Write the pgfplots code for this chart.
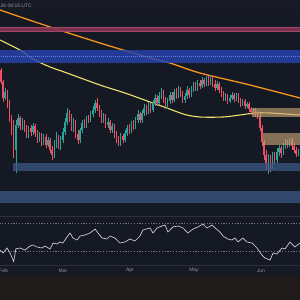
\documentclass[border=0pt]{standalone}
\usepackage{fontspec}
\setmainfont{Liberation Sans}
\usepackage{pgfplots}
\usepackage{pgfplotstable}
\pgfplotsset{compat=1.18}

\definecolor{bg}{HTML}{151924}
\definecolor{hdr}{HTML}{181B25}
\definecolor{foot}{HTML}{1E1B1A}
\definecolor{sep}{HTML}{2C303B}
\definecolor{lbl}{HTML}{9598A1}
\definecolor{upc}{HTML}{26A69A}
\definecolor{dnc}{HTML}{EF5063}
\definecolor{ma200}{HTML}{F5951F}
\definecolor{ma100}{HTML}{EDE46A}
\definecolor{resz}{HTML}{843350}
\definecolor{resedge}{HTML}{A6456A}
\definecolor{bluez}{HTML}{2743B0}
\definecolor{bluemid}{HTML}{5B7BE0}
\definecolor{tanz}{HTML}{C9A577}
\definecolor{steel}{HTML}{3D5A88}
\definecolor{rsic}{HTML}{D1D4DC}
\definecolor{lvl}{HTML}{737681}

% daily candles: day index (0 = 1 Feb), open, high, low, close
\pgfplotstableread{
d o h l c
-1 146 148 132 134
0 134 136 114 118
1 118 128 116 124
2 124 126 108 111
3 111 116 94 98
4 98 101 81 86
5 91 96 58 64
6 66 96 43 91
7 91 102 88 98
8 98 100 86 90
9 90 98 86 94
10 94 96 84 88
11 88 91 78 81
12 81 90 78 88
13 88 91 80 84
14 84 93 81 90
15 90 92 79 83
16 83 86 73 76
17 76 84 74 81
18 81 83 70 74
19 74 82 71 79
20 79 82 68 71
21 71 79 69 76
22 76 78 63 66
23 66 70 56 61
24 61 76 58 71
25 71 84 68 78
26 78 81 67 71
27 71 80 66 76
28 76 88 73 84
29 84 98 81 94
30 94 108 91 103
31 103 106 94 98
32 98 102 85 88
33 88 98 84 94
34 94 96 78 82
35 82 86 72 76
36 76 88 73 86
37 86 96 83 93
38 93 97 88 91
39 91 100 88 97
40 97 101 93 96
41 96 105 94 102
42 102 110 99 106
43 106 116 103 113
44 113 118 105 108
45 108 111 99 102
46 102 106 93 96
47 96 103 93 100
48 100 102 88 91
49 91 98 88 94
50 94 96 83 86
51 86 93 83 90
52 90 92 78 82
53 82 85 73 76
54 76 80 70 73
55 73 83 70 80
56 80 82 73 76
57 76 86 74 83
58 83 91 80 88
59 88 92 82 85
60 85 95 83 92
61 92 96 86 89
62 89 99 87 96
63 96 106 93 102
64 102 104 93 96
65 96 106 93 103
66 103 112 100 108
67 108 111 101 104
68 104 114 102 111
69 111 114 103 106
70 106 116 104 112
71 112 122 110 118
72 118 121 110 113
73 113 124 111 120
74 120 128 117 124
75 124 126 113 116
76 116 119 107 110
77 110 118 107 115
78 115 124 112 121
79 121 124 113 116
80 116 127 114 124
81 124 128 117 120
82 120 130 118 126
83 126 129 119 122
84 122 125 113 116
85 116 123 113 120
86 120 130 117 126
87 126 128 118 121
88 121 130 119 127
89 127 134 124 131
90 131 134 125 128
91 128 136 125 133
92 133 136 127 130
93 130 139 128 136
94 136 138 129 132
95 132 140 130 137
96 137 140 130 133
97 133 141 131 138
98 138 141 129 132
99 132 136 125 128
100 128 135 126 132
101 132 134 123 126
102 126 129 119 122
103 122 125 115 118
104 118 123 115 120
105 120 122 112 115
106 115 121 113 118
107 118 124 116 121
108 121 123 114 117
109 117 123 115 121
110 121 123 113 116
111 116 118 109 112
112 112 117 110 115
113 115 117 107 110
114 110 114 108 112
115 112 114 104 107
116 107 109 101 104
117 104 108 102 106
118 106 108 99 102
119 102 105 97 100
120 100 103 85 88
121 88 91 70 74
122 74 76 56 61
123 61 66 46 53
124 53 62 42 58
125 58 61 44 50
126 50 64 47 60
127 60 64 52 56
128 56 68 53 64
129 64 71 60 68
130 68 70 58 63
131 63 73 61 70
132 70 77 67 74
133 74 76 68 71
134 71 78 69 76
135 76 78 66 70
136 70 73 63 66
137 66 69 59 62
138 62 67 60 65
}\candles

\pgfplotsset{
  candle part/.style n args={3}{forget plot, draw=none, mark=none,
    restrict expr to domain={#1}{#2},
    error bars/.cd, y dir=plus, y explicit, error mark=none,
    error bar style={#3}},
}

\begin{document}
\begin{tikzpicture}[x=1bp,y=1bp]
\useasboundingbox (0,0) rectangle (300,300);
\clip (0,0) rectangle (300,300);
\fill[bg] (0,0) rectangle (300,300);
\fill[hdr] (0,290) rectangle (300,300);
\fill[foot] (0,0) rectangle (300,24);
\draw[sep, line width=0.8bp] (0,35) -- (300,35);
\draw[sep, line width=1bp] (0,83.5) -- (300,83.5);

% ---------- price panel ----------
\begin{axis}[at={(0bp,300bp)}, anchor=north west, scale only axis,
  width=300bp, height=216bp,
  xmin=-1.4, xmax=138.8, ymin=0, ymax=216,
  hide axis, clip=true]

% moving averages
\addplot[forget plot, ma200, line width=1.3bp, smooth] coordinates {
 (-2,207) (-1.4,206) (22,189) (45.3,173) (68.7,158) (78,153) (92,143)
 (115.4,131) (138.8,118) (140,117.5)};
\addplot[forget plot, ma100, line width=1.1bp, smooth] coordinates {
 (-2,177) (-1.4,176) (7.9,166) (14,157) (22,149) (29.9,143) (45.3,131)
 (57,123) (68.7,114) (76.6,108) (85,101.5) (92,99) (102.8,99)
 (110.7,101) (117.8,103) (124.8,103) (138.8,101) (140,101)};

% wicks (low to high)
\addplot[candle part={\thisrow{c}-\thisrow{o}}{0:1000}{draw=upc, line width=0.55bp}]
  table[x=d, y=l, y error plus expr=\thisrow{h}-\thisrow{l}] {\candles};
\addplot[candle part={\thisrow{o}-\thisrow{c}}{0.5:1000}{draw=dnc, line width=0.55bp}]
  table[x=d, y=l, y error plus expr=\thisrow{h}-\thisrow{l}] {\candles};
% bodies (open to close)
\addplot[candle part={\thisrow{c}-\thisrow{o}}{0:1000}{draw=upc, line width=1.45bp}]
  table[x=d, y=o, y error plus expr=\thisrow{c}-\thisrow{o}] {\candles};
\addplot[candle part={\thisrow{o}-\thisrow{c}}{0.5:1000}{draw=dnc, line width=1.45bp}]
  table[x=d, y=c, y error plus expr=\thisrow{o}-\thisrow{c}] {\candles};

% resistance / support zones
\addplot[forget plot, fill=resz, draw=resedge, line width=0.5bp, fill opacity=0.9]
  coordinates {(-3,185) (141,185) (141,189) (-3,189)} -- cycle;
\addplot[forget plot, fill=bluez, draw=none, fill opacity=0.82]
  coordinates {(-3,153) (141,153) (141,166) (-3,166)} -- cycle;
\addplot[forget plot, bluemid, line width=0.5bp, dash pattern=on 0.8bp off 1.2bp]
  coordinates {(-3,159.5) (141,159.5)};
\addplot[forget plot, fill=tanz, draw=none, fill opacity=0.62]
  coordinates {(116.4,99) (141,99) (141,108) (116.4,108)} -- cycle;
\addplot[forget plot, fill=tanz, draw=none, fill opacity=0.62]
  coordinates {(121.5,71) (141,71) (141,83) (121.5,83)} -- cycle;
\addplot[forget plot, fill=steel, draw=none, fill opacity=0.72]
  coordinates {(4.8,45) (141,45) (141,53) (4.8,53)} -- cycle;
\addplot[forget plot, fill=steel, draw=none, fill opacity=0.72]
  coordinates {(-3,13) (141,13) (141,25) (-3,25)} -- cycle;
\end{axis}

% ---------- RSI panel ----------
\begin{axis}[at={(0bp,83bp)}, anchor=north west, scale only axis,
  width=300bp, height=48bp,
  xmin=-1.4, xmax=138.8, ymin=10, ymax=78.57,
  hide axis, clip=true]
\addplot[forget plot, lvl, line width=0.7bp, dash pattern=on 1.3bp off 1.5bp]
  coordinates {(-3,70) (141,70)};
\addplot[forget plot, lvl, line width=0.7bp, dash pattern=on 1.3bp off 1.5bp]
  coordinates {(-3,30) (141,30)};
\addplot[forget plot, rsic, line width=0.65bp] coordinates {
 (-1.4,31.4) (0,27.1) (1.9,34.3) (3.3,27.1) (5,15) (6,33) (7.9,34.3)
 (10.3,31.4) (12.6,37.1) (14,38.6) (15.9,35.7) (18.2,34.3) (19.6,37.1)
 (22,32.9) (23.4,41.4) (25.2,40) (26.6,42.9) (28,41.4) (29.9,50)
 (31.3,55.7) (32.7,48.6) (34.6,45.7) (36,51.4) (38.3,52.9) (40.7,55.7)
 (43,61.4) (44.4,55.7) (46.3,48.6) (48.6,47.1) (50,51.4) (52.3,48.6)
 (54.7,41.4) (57,42.9) (59.3,47.1) (61.7,44.3) (64,51.4) (65.4,60)
 (68.7,62.9) (70.1,55.7) (72,62.9) (74.3,65.7) (75.7,67.1) (77.1,57.1)
 (79.4,64.3) (81.8,65.7) (84.1,62.9) (86.4,55.7) (88.8,61.4) (91.1,64.3)
 (93.5,68.6) (95.3,62.9) (97.7,67.1) (99.1,62.9) (101.4,57.1) (102.8,51.4)
 (105.1,47.1) (107,45.7) (108.4,48.6) (109.8,42.9) (112.1,48.6) (114,42.9)
 (116.4,41.4) (118.7,34.3) (121,24.3) (122.4,20) (124.8,17.1) (126.2,27.1)
 (128,25.7) (130.4,34.3) (131.8,32.9) (134.1,42.9) (136.4,35.7) (138.8,41.4)};
\end{axis}

% time scale
\foreach \m/\px in {Feb/3.5, Mar/63, Apr/130, May/194, Jun/261}
  \node[font=\fontsize{5}{6}\selectfont, text=lbl, inner sep=0pt] at (\px,29.5) {\m};

\node[anchor=west, inner sep=0pt, font=\fontsize{5}{6}\selectfont, text=lbl]
  at (0.5,294) {26 08:15 UTC};
\end{tikzpicture}
\end{document}
